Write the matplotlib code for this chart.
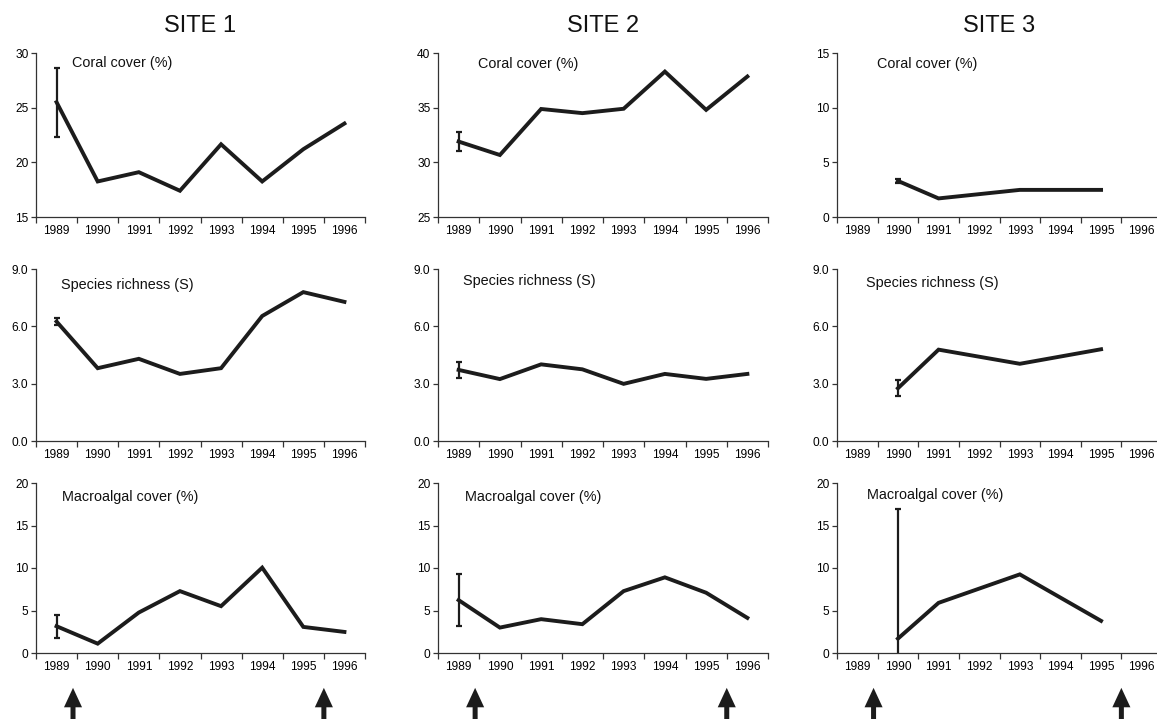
import numpy as np
import matplotlib
matplotlib.use("Agg")
import matplotlib.pyplot as plt
from matplotlib.ticker import FormatStrFormatter

plt.rcParams['font.family'] = ['Liberation Sans', 'DejaVu Sans']

years = ['1989', '1990', '1991', '1992', '1993', '1994', '1995', '1996']
sites = ['SITE 1', 'SITE 2', 'SITE 3']
variables = ['Coral cover (%)', 'Species richness (S)', 'Macroalgal cover (%)']

# year index of each sample (site 3 was not sampled every year)
idx_site1 = [0, 1, 2, 3, 4, 5, 6, 7]
idx_site2 = [0, 1, 2, 3, 4, 5, 6, 7]
idx_site3 = [1, 2, 4, 6]

# coral cover (%)
coral_site1 = [25.5, 18.25, 19.1, 17.4, 21.65, 18.25, 21.2, 23.55]
coral_site2 = [31.9, 30.67, 34.88, 34.5, 34.9, 38.3, 34.8, 37.85]
coral_site3 = [3.3, 1.7, 2.48, 2.48]
# species richness
rich_site1 = [6.25, 3.81, 4.3, 3.51, 3.81, 6.54, 7.79, 7.28]
rich_site2 = [3.72, 3.24, 4.01, 3.75, 2.99, 3.51, 3.25, 3.51]
rich_site3 = [2.76, 4.78, 4.04, 4.8]
# macroalgal cover (%)
macro_site1 = [3.15, 1.1, 4.76, 7.28, 5.51, 10.04, 3.07, 2.48]
macro_site2 = [6.22, 2.99, 3.98, 3.39, 7.28, 8.9, 7.09, 4.13]
macro_site3 = [1.69, 5.9, 9.25, 3.78]

# error (+/-) on the first sample only
err_coral = [3.15, 0.9, 0.15]
err_rich = [0.18, 0.42, 0.42]
err_macro = [1.35, 3.07, 15.24]

# y axis ranges / ticks per panel
ylims = [[(15, 30), (25, 40), (0, 15)],
         [(0, 9), (0, 9), (0, 9)],
         [(0, 20), (0, 20), (0, 20)]]
ysteps = [5, 3, 5]

# events marked with arrows (between years, in year-index units)
events = [0.4, 6.5]

data = [[coral_site1, coral_site2, coral_site3],
        [rich_site1, rich_site2, rich_site3],
        [macro_site1, macro_site2, macro_site3]]
errs = [err_coral, err_rich, err_macro]
idxs = [idx_site1, idx_site2, idx_site3]

W, H = 1157, 719
fig = plt.figure(figsize=(W / 100, H / 100), dpi=100)

col_left = [36, 438, 837]
col_width = [329, 330, 325]
row_top = [53, 269, 483]
row_bot = [217, 441, 653]
lab_pos = [[(0.11, 0.94), (0.12, 0.93), (0.123, 0.93)],
           [(0.076, 0.905), (0.076, 0.93), (0.09, 0.92)],
           [(0.08, 0.92), (0.083, 0.92), (0.092, 0.93)]]

col = '#1c1c1c'
for r in range(3):
    for c in range(3):
        ax = fig.add_axes([col_left[c] / W, 1 - row_bot[r] / H,
                           col_width[c] / W, (row_bot[r] - row_top[r]) / H])
        x = idxs[c]
        y = data[r][c]
        ax.plot(x, y, color=col, lw=2.8, solid_joinstyle='miter')
        ax.errorbar(x[0], y[0], yerr=errs[r][c], color=col, lw=1.6,
                    capsize=2.5, capthick=1.6)
        lo, hi = ylims[r][c]
        ax.set_ylim(lo, hi)
        ax.set_xlim(-0.5, 7.5)
        ax.set_yticks(np.arange(lo, hi + 0.01, ysteps[r]))
        if r == 1:
            ax.yaxis.set_major_formatter(FormatStrFormatter('%.1f'))
        ax.set_xticks(np.arange(-0.5, 8, 1))
        ax.set_xticklabels([])
        ax.set_xticks(np.arange(8), minor=True)
        ax.set_xticklabels(years, minor=True)
        ax.tick_params(axis='x', which='major', length=4, width=0.9, direction='out', color='#333')
        ax.tick_params(axis='x', which='minor', length=0, pad=5.5, labelsize=8.6)
        ax.tick_params(axis='y', length=3.5, width=0.9, pad=2, labelsize=8.6, color='#333')
        for s in ['top', 'right']:
            ax.spines[s].set_visible(False)
        for s in ['left', 'bottom']:
            ax.spines[s].set_linewidth(0.9)
            ax.spines[s].set_color('#333')
        ax.text(lab_pos[r][c][0], lab_pos[r][c][1], variables[r],
                transform=ax.transAxes, fontsize=10.4, va='center', ha='left', color='#111')
        if r == 0:
            ax.set_title(sites[c], fontsize=17, pad=15, color='#111')
        if r == 2:
            for ev in events:
                ax.annotate('', xy=(ev, -0.205), xytext=(ev, -0.45),
                            xycoords=ax.get_xaxis_transform(),
                            textcoords=ax.get_xaxis_transform(),
                            arrowprops=dict(width=3.6, headwidth=13, headlength=14,
                                            facecolor=col, edgecolor='none'),
                            annotation_clip=False)

fig.savefig('out.png', dpi=100)
